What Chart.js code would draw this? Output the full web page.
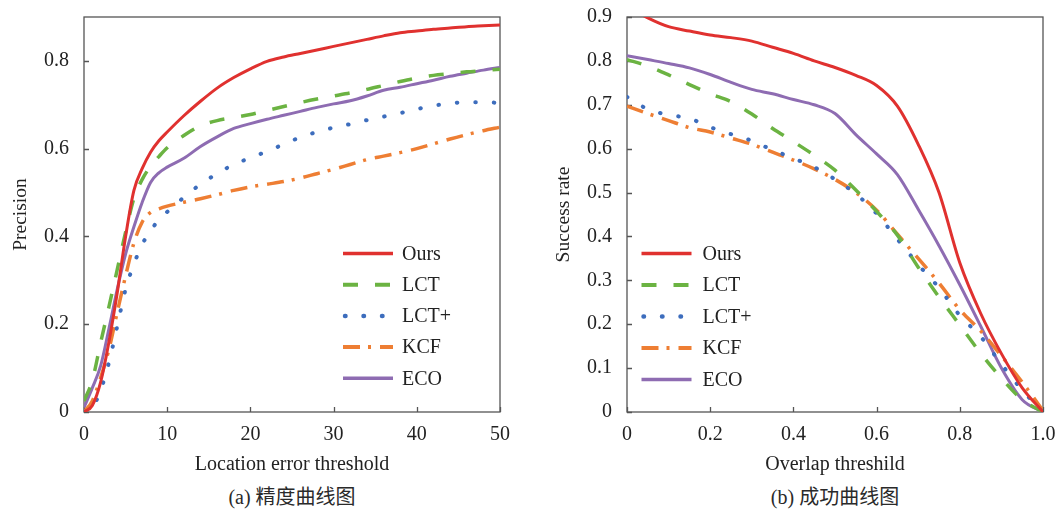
<!DOCTYPE html>
<html>
<head>
<meta charset="utf-8">
<script src="https://cdn.jsdelivr.net/npm/chart.js@4.4.1/dist/chart.umd.min.js"></script>
<style>
body { margin: 0; background: #fff; }
#wrap { position: relative; width: 1062px; height: 509px; overflow: hidden; background: #fff; }
#precisionChart { position: absolute; left: 0; top: 0; }
#successChart { position: absolute; left: 530px; top: 0; }
.caption { position: absolute; top: 485px; font: 20px 'Liberation Serif', 'Noto Sans CJK SC', serif; color: #2a2a2a; transform: translateX(-50%); white-space: nowrap; line-height: 24px; }
</style>
</head>
<body>
<div id="wrap">
  <canvas id="precisionChart" width="530" height="477"></canvas>
  <canvas id="successChart" width="532" height="477"></canvas>
  <div class="caption" style="left:292px">(a) 精度曲线图</div>
  <div class="caption" style="left:835px">(b) 成功曲线图</div>
</div>
<script>
// ---- data ----
const methods = ['Ours', 'LCT', 'LCT+', 'KCF', 'ECO'];

// (a) precision vs location error threshold
const precisionX = [0, 1, 2, 3, 4, 5, 6, 7, 8, 9, 10, 12, 14, 16, 18, 20, 22, 24, 26, 28, 30, 32, 34, 36, 38, 40, 42, 44, 46, 48, 50];
const precOurs = [0, 0.015, 0.068, 0.16, 0.272, 0.4, 0.505, 0.555, 0.592, 0.618, 0.638, 0.675, 0.708, 0.738, 0.762, 0.782, 0.799, 0.809, 0.817, 0.825, 0.833, 0.841, 0.849, 0.857, 0.864, 0.868, 0.872, 0.875, 0.878, 0.88, 0.882];
const precLCT = [0.025, 0.072, 0.158, 0.24, 0.325, 0.41, 0.487, 0.53, 0.56, 0.582, 0.602, 0.63, 0.652, 0.664, 0.671, 0.678, 0.687, 0.696, 0.705, 0.713, 0.72, 0.727, 0.735, 0.744, 0.753, 0.761, 0.767, 0.771, 0.775, 0.778, 0.781];
const precLCTplus = [0, 0.01, 0.05, 0.113, 0.196, 0.28, 0.337, 0.382, 0.413, 0.438, 0.456, 0.489, 0.519, 0.543, 0.564, 0.579, 0.594, 0.61, 0.626, 0.638, 0.648, 0.656, 0.665, 0.673, 0.681, 0.69, 0.698, 0.703, 0.706, 0.706, 0.704];
const precKCF = [0, 0.025, 0.078, 0.143, 0.228, 0.31, 0.385, 0.433, 0.455, 0.463, 0.469, 0.478, 0.486, 0.495, 0.505, 0.513, 0.519, 0.525, 0.533, 0.543, 0.553, 0.564, 0.575, 0.583, 0.591, 0.6, 0.611, 0.622, 0.632, 0.641, 0.649];
const precECO = [0.01, 0.055, 0.105, 0.19, 0.28, 0.36, 0.422, 0.478, 0.523, 0.545, 0.558, 0.578, 0.605, 0.627, 0.646, 0.657, 0.667, 0.676, 0.685, 0.694, 0.702, 0.709, 0.72, 0.733, 0.74, 0.748, 0.756, 0.765, 0.772, 0.779, 0.785];
const precXTicks = [0, 10, 20, 30, 40, 50];
const precXLabels = ['0', '10', '20', '30', '40', '50'];
const precYTicks = [0, 0.2, 0.4, 0.6, 0.8];
const precYLabels = ['0', '0.2', '0.4', '0.6', '0.8'];

// (b) success rate vs overlap threshold
const successX = [0, 0.05, 0.1, 0.15, 0.2, 0.25, 0.3, 0.35, 0.4, 0.45, 0.5, 0.55, 0.6, 0.65, 0.7, 0.75, 0.8, 0.85, 0.9, 0.95, 1.0];
const succOurs = [0.925, 0.898, 0.878, 0.868, 0.859, 0.853, 0.845, 0.831, 0.817, 0.8, 0.785, 0.767, 0.744, 0.697, 0.61, 0.5, 0.34, 0.225, 0.133, 0.055, 0];
const succLCT = [0.803, 0.788, 0.768, 0.746, 0.725, 0.707, 0.679, 0.646, 0.616, 0.585, 0.551, 0.506, 0.457, 0.403, 0.33, 0.262, 0.198, 0.134, 0.077, 0.028, 0];
const succLCTplus = [0.718, 0.69, 0.677, 0.669, 0.649, 0.633, 0.618, 0.597, 0.578, 0.558, 0.53, 0.497, 0.452, 0.394, 0.336, 0.283, 0.22, 0.172, 0.109, 0.05, 0];
const succKCF = [0.697, 0.68, 0.664, 0.648, 0.638, 0.624, 0.61, 0.592, 0.574, 0.554, 0.53, 0.5, 0.46, 0.405, 0.35, 0.294, 0.233, 0.185, 0.128, 0.068, 0.003];
const succECO = [0.812, 0.803, 0.794, 0.784, 0.769, 0.751, 0.735, 0.725, 0.712, 0.7, 0.68, 0.632, 0.588, 0.541, 0.462, 0.379, 0.29, 0.196, 0.1, 0.028, 0];
const succXTicks = [0, 0.2, 0.4, 0.6, 0.8, 1.0];
const succXLabels = ['0', '0.2', '0.4', '0.6', '0.8', '1.0'];
const succYTicks = [0, 0.1, 0.2, 0.3, 0.4, 0.5, 0.6, 0.7, 0.8, 0.9];
const succYLabels = ['0', '0.1', '0.2', '0.3', '0.4', '0.5', '0.6', '0.7', '0.8', '0.9'];

// ---- line looks ----
const styles = [
  { borderColor: '#e0312f', borderWidth: 3, borderDash: [], borderCapStyle: 'butt' },
  { borderColor: '#6bb342', borderWidth: 3.5, borderDash: [15, 17], borderCapStyle: 'butt' },
  { borderColor: '#3d6dbd', borderWidth: 4, borderDash: [0.5, 18], borderCapStyle: 'round' },
  { borderColor: '#ee7e33', borderWidth: 3.5, borderDash: [17, 8, 3, 9], borderCapStyle: 'butt' },
  { borderColor: '#8e6cb2', borderWidth: 3, borderDash: [], borderCapStyle: 'butt' }
];

const FONT = "'Liberation Serif', 'Times New Roman', serif";
const TEXT = '#222';
Chart.defaults.font.family = FONT;
Chart.defaults.color = TEXT;

function makeDatasets(xs, series) {
  return series.map((ys, i) => Object.assign({
    label: methods[i],
    data: xs.map((x, j) => ({ x: x, y: ys[j] })),
    pointRadius: 0,
    fill: false,
    cubicInterpolationMode: 'monotone'
  }, styles[i]));
}

// box around the plot + short inward ticks on bottom and left
const framePlugin = {
  id: 'frame',
  beforeDatasetsDraw(chart) {
    const { ctx, chartArea: a, scales } = chart;
    ctx.save();
    ctx.strokeStyle = '#555';
    ctx.lineWidth = 1.3;
    ctx.strokeRect(a.left, a.top, a.right - a.left, a.bottom - a.top);
    ctx.beginPath();
    scales.x.ticks.forEach(t => {
      const px = Math.round(scales.x.getPixelForValue(t.value)) + 0.5;
      ctx.moveTo(px, a.bottom);
      ctx.lineTo(px, a.bottom - 5);
    });
    scales.y.ticks.forEach(t => {
      const py = Math.round(scales.y.getPixelForValue(t.value)) + 0.5;
      ctx.moveTo(a.left, py);
      ctx.lineTo(a.left + 5, py);
    });
    ctx.stroke();
    ctx.restore();
  }
};

// legend drawn inside the plot area
const inLegendPlugin = {
  id: 'inLegend',
  afterDatasetsDraw(chart, args, opts) {
    const { ctx, chartArea: a } = chart;
    ctx.save();
    chart.data.datasets.forEach((ds, i) => {
      const y = a.top + opts.top + i * opts.step;
      const x0 = a.left + opts.left;
      ctx.beginPath();
      ctx.strokeStyle = ds.borderColor;
      ctx.lineWidth = ds.borderWidth + 0.5;
      ctx.lineCap = ds.borderCapStyle;
      ctx.setLineDash(ds.borderDash);
      ctx.lineDashOffset = opts.dashOffset[i] || 0;
      ctx.moveTo(x0, y);
      ctx.lineTo(x0 + opts.lineLen, y);
      ctx.stroke();
      ctx.setLineDash([]);
      ctx.font = opts.fontSize + 'px ' + FONT;
      ctx.fillStyle = TEXT;
      ctx.textBaseline = 'middle';
      ctx.textAlign = 'left';
      ctx.fillText(ds.label, x0 + opts.lineLen + opts.textGap, y + 1);
    });
    ctx.restore();
  }
};

function axisOptions(cfg) {
  return {
    x: {
      type: 'linear', min: cfg.xMin, max: cfg.xMax,
      grid: { display: false, drawTicks: false, tickLength: 0 }, border: { display: false },
      afterBuildTicks: s => { s.ticks = cfg.xTicks.map(v => ({ value: v })); },
      afterFit: s => { s.height = 65; s.paddingLeft = 0; s.paddingRight = 0; },
      ticks: { padding: 11, font: { size: 20 }, color: TEXT, maxRotation: 0, autoSkip: false,
               callback: (v, i) => cfg.xLabels[i] },
      title: { display: true, text: cfg.xTitle, font: { size: 20 }, color: TEXT, padding: 0 }
    },
    y: {
      type: 'linear', min: 0, max: 0.9,
      grid: { display: false, drawTicks: false, tickLength: 0 }, border: { display: false },
      afterBuildTicks: s => { s.ticks = cfg.yTicks.map(v => ({ value: v })); },
      afterFit: s => { s.width = 75; s.paddingTop = 0; s.paddingBottom = 0; },
      ticks: { padding: 15, font: { size: 20 }, color: TEXT, autoSkip: false,
               callback: (v, i) => cfg.yLabels[i] },
      title: { display: true, text: cfg.yTitle, font: { size: 19.5 }, color: TEXT, padding: 0 }
    }
  };
}

new Chart(document.getElementById('precisionChart'), {
  type: 'line',
  data: { datasets: makeDatasets(precisionX, [precOurs, precLCT, precLCTplus, precKCF, precECO]) },
  options: {
    responsive: false,
    animation: false,
    layout: { padding: { left: 9, top: 17, right: 30, bottom: 0 } },
    plugins: {
      legend: { display: false },
      tooltip: { enabled: false },
      inLegend: { left: 259, top: 236.5, step: 31.2, lineLen: 50, textGap: 9, fontSize: 20, dashOffset: [0, 0, -2, 0, 0] }
    },
    scales: axisOptions({
      xMin: 0, xMax: 50, xTicks: precXTicks, xLabels: precXLabels, xTitle: 'Location error threshold',
      yTicks: precYTicks, yLabels: precYLabels, yTitle: 'Precision'
    })
  },
  plugins: [framePlugin, inLegendPlugin]
});

new Chart(document.getElementById('successChart'), {
  type: 'line',
  data: { datasets: makeDatasets(successX, [succOurs, succLCT, succLCTplus, succKCF, succECO]) },
  options: {
    responsive: false,
    animation: false,
    layout: { padding: { left: 22, top: 17, right: 19, bottom: 0 } },
    plugins: {
      legend: { display: false },
      tooltip: { enabled: false },
      inLegend: { left: 14.5, top: 236.5, step: 31.5, lineLen: 50, textGap: 11, fontSize: 20, dashOffset: [0, 0, -2, 0, 0] }
    },
    scales: axisOptions({
      xMin: 0, xMax: 1, xTicks: succXTicks, xLabels: succXLabels, xTitle: 'Overlap threshild',
      yTicks: succYTicks, yLabels: succYLabels, yTitle: 'Success rate'
    })
  },
  plugins: [framePlugin, inLegendPlugin]
});
</script>
</body>
</html>
